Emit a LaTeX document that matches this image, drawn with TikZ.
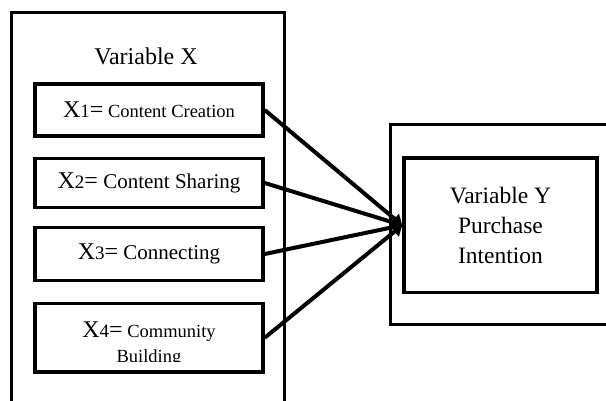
\documentclass[tikz,border=0pt]{standalone}
\usepackage{fontspec}
\setmainfont{Liberation Serif}
\usetikzlibrary{arrows.meta,positioning}

\newcommand{\varlabel}[3]{{\fontsize{24}{28}\selectfont X}{\fontsize{19}{22}\selectfont #1}{\fontsize{24}{28}\selectfont =}{\fontsize{#2}{25}\selectfont\ #3}}

\begin{document}
\begin{tikzpicture}[
  x=1pt, y=-1pt,
  box/.style={rectangle, draw, line width=3.5pt, minimum width=228pt,
    inner sep=0pt, align=center},
  group/.style={rectangle, draw, line width=3pt, inner sep=0pt},
  link/.style={line width=4pt, -{Triangle[length=10pt,width=13pt]}}
]
  \useasboundingbox (0,0) rectangle (606,401);
  \clip (0,0) rectangle (606,401);

  % left group
  \node[group, minimum width=272.5pt, minimum height=427.5pt] (xgroup) at (147.75,226.25) {};
  \node[anchor=base, font=\fontsize{24}{28}\selectfont] (xtitle) at (146,65) {Variable X};

  \node[box, minimum height=52pt] (x1) at (149,110) {\varlabel{1}{18.5}{Content Creation}};
  \node[box, minimum height=49pt] (x2) at (149,183) {\varlabel{2}{21}{Content Sharing}};
  \node[box, minimum height=53pt] (x3) at (149,254) {\varlabel{3}{21}{Connecting}};
  \node[box, minimum height=68.5pt] (x4) at (149,337.75) {};
  \begin{scope}
    \clip (40,300) rectangle (260,361);
    \node[align=center, inner sep=0pt, font=\fontsize{18.5}{25}\selectfont] (x4text) at (149,344.5)
      {\varlabel{4}{18.5}{Community}\\Building};
  \end{scope}

  % right group
  \node[group, minimum width=250pt, minimum height=199pt] (ygroup) at (515,224.5) {};
  \node[box, minimum width=193pt, minimum height=134.5pt,
    font=\fontsize{23.5}{30}\selectfont] (yin) at (500.5,225.25) {Variable Y\\Purchase\\Intention};

  \draw[link] (x1.east) -- (yin.west);
  \draw[link] (x2.east) -- (yin.west);
  \draw[link] (x3.east) -- (yin.west);
  \draw[link] (x4.east) -- (yin.west);
\end{tikzpicture}
\end{document}
